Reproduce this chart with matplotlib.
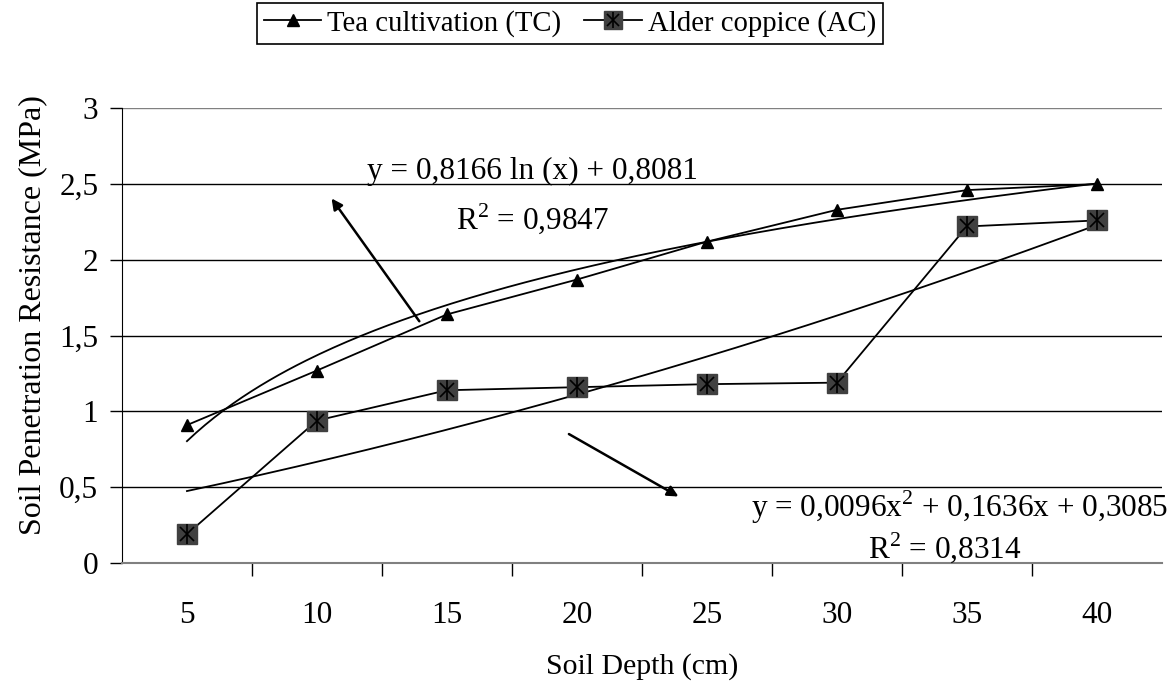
import numpy as np
import matplotlib.pyplot as plt
from matplotlib.lines import Line2D

plt.rcParams['font.family'] = ['Liberation Serif', 'DejaVu Serif']
plt.rcParams['mathtext.fontset'] = 'custom'
plt.rcParams['mathtext.rm'] = 'Liberation Serif'

# Data
depths = ['5', '10', '15', '20', '25', '30', '35', '40']
tc_values = [0.91, 1.27, 1.64, 1.87, 2.12, 2.33, 2.46, 2.50]
ac_values = [0.19, 0.94, 1.14, 1.16, 1.18, 1.19, 2.22, 2.26]
y_ticks = [0, 0.5, 1, 1.5, 2, 2.5, 3]
y_tick_labels = ['0', '0,5', '1', '1,5', '2', '2,5', '3']

x = np.arange(1, len(depths) + 1)
FS_TICK = 22.5
FS_LAB = 21.5
FS_LEG = 20.7
FS_EQ = 22.5

fig = plt.figure(figsize=(11.75, 6.85), dpi=100)
ax = fig.add_axes([0.1038, 0.178, 0.885, 0.664])

# gridlines
for yv in y_ticks[1:]:
    ax.axhline(yv, color='black' if yv < 3 else '#808080', lw=1, zorder=1)

# trendlines (Excel uses the category index as x)
xs = np.linspace(1, 8, 200)
a_log, b_log = np.polyfit(np.log(x), tc_values, 1)
ax.plot(xs, a_log * np.log(xs) + b_log, color='black', lw=1.3, zorder=2)
p2 = np.polyfit(x, ac_values, 2)
ax.plot(xs, np.polyval(p2, xs), color='black', lw=1.3, zorder=2)

# series
ax.plot(x, tc_values, color='black', lw=1.3, marker='^', ms=9,
        mfc='black', mec='black', zorder=3)
ax.plot(x, ac_values, color='black', lw=1.3, zorder=3)
ax.plot(x, ac_values, ls='none', marker='s', ms=15, mfc='#404040',
        mec='#404040', zorder=4)
ax.plot(x, ac_values, ls='none', marker='x', ms=10, mec='black', mew=1.2,
        zorder=5)
ax.plot(x, ac_values, ls='none', marker='|', ms=14, mec='black', mew=1.2,
        zorder=5)

# annotations
ax.annotate('', xy=(2.10, 2.42), xytext=(2.80, 1.58),
            arrowprops=dict(arrowstyle='-|>', color='black', lw=1.8,
                            mutation_scale=16))
ax.annotate('', xy=(4.80, 0.43), xytext=(3.92, 0.86),
            arrowprops=dict(arrowstyle='-|>', color='black', lw=1.8,
                            mutation_scale=16))
ax.text(3.66, 2.58, 'y = 0,8166 ln (x) + 0,8081', ha='center', va='center',
        fontsize=FS_EQ)
ax.text(3.66, 2.27, 'R$^{2}$ = 0,9847', ha='center', va='center',
        fontsize=FS_EQ)
ax.text(5.34, 0.37, 'y = 0,0096x$^{2}$ + 0,1636x + 0,3085', ha='left',
        va='center', fontsize=FS_EQ)
ax.text(6.83, 0.10, 'R$^{2}$ = 0,8314', ha='center', va='center',
        fontsize=FS_EQ)

# axes styling
ax.set_xlim(0.5, 8.5)
ax.set_ylim(0, 3)
ax.set_yticks(y_ticks)
ax.set_yticklabels(y_tick_labels)
ax.set_xticks(x)
ax.set_xticklabels(depths)
ax.set_xticks(np.arange(1.5, 8.5, 1), minor=True)
ax.tick_params(axis='x', which='major', length=0, pad=27, labelsize=FS_TICK)
ax.tick_params(axis='x', which='minor', length=9, width=1, color='black',
               direction='out')
ax.tick_params(axis='y', length=9, width=1, direction='out',
               labelsize=FS_TICK, pad=8)
for s in ['top', 'right']:
    ax.spines[s].set_visible(False)
ax.spines['bottom'].set_color('#808080')
ax.spines['bottom'].set_linewidth(1.5)
ax.spines['left'].set_color('black')
ax.set_xlabel('Soil Depth (cm)', fontsize=FS_LAB, labelpad=17)
ax.set_ylabel('Soil Penetration Resistance (MPa)', fontsize=23, labelpad=9)
ax.yaxis.label.set_y(0.545)

# legend
h1 = Line2D([], [], color='black', lw=1.3, marker='^', ms=9, mfc='black')
h2 = Line2D([], [], color='black', lw=1.3, marker='s', ms=13,
            mfc='#404040', mec='#404040')
h2x = Line2D([], [], ls='none', marker='x', ms=9, mec='black', mew=1.2)
h2b = Line2D([], [], ls='none', marker='|', ms=12, mec='black', mew=1.2)
leg = fig.legend([h1, (h2, h2x, h2b)],
                 ['Tea cultivation (TC)', 'Alder coppice (AC)'],
                 loc='center', bbox_to_anchor=(0.485, 0.966), ncol=2,
                 fontsize=FS_LEG, frameon=True, fancybox=False,
                 handlelength=2.0, handletextpad=0.2, columnspacing=0.8,
                 borderpad=0.25, edgecolor='black', framealpha=1)
leg.get_frame().set_linewidth(1.2)

fig.savefig('out.png', dpi=100)
